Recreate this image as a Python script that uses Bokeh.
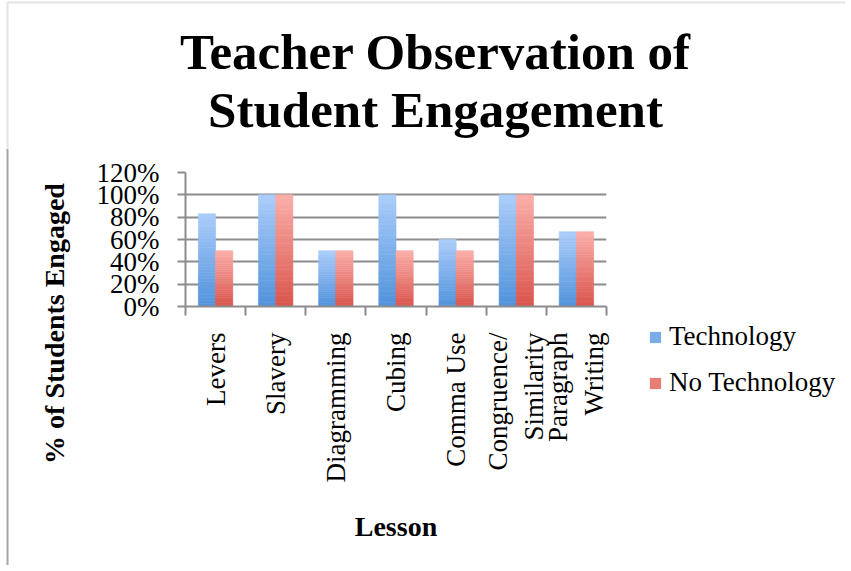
import math
from bokeh.plotting import figure
from bokeh.layouts import column, row
from bokeh.models import (Range1d, FixedTicker, NumeralTickFormatter, Label,
                          Legend, LegendItem, ColumnDataSource, Span, BoxAnnotation)
from bokeh.embed import file_html
from bokeh.resources import INLINE

# ---------------- data ----------------
lessons = ["Levers", "Slavery", "Diagramming", "Cubing", "Comma Use",
           "Congruence/\nSimilarity", "Paragraph\nWriting"]
technology = [0.83, 1.00, 0.50, 1.00, 0.60, 1.00, 0.67]
no_technology = [0.50, 1.00, 0.50, 0.50, 0.50, 1.00, 0.67]
series_names = ["Technology", "No Technology"]
y_ticks = [0, 0.2, 0.4, 0.6, 0.8, 1.0, 1.2]
title_lines = ["Teacher Observation of", "Student Engagement"]
y_title = "% of Students Engaged"
x_title = "Lesson"

# ---------------- style ----------------
BLUE_TOP, BLUE_BOTTOM = (172, 205, 251), (80, 146, 219)
RED_TOP, RED_BOTTOM = (251, 174, 170), (217, 85, 76)
GRAY = "#8c8c8c"
BORDER = "#a6a6a6"
FONT = "Liberation Serif"

W, H = 845, 565
TOP_H = 148              # height of the title strip
ROW_H = H - TOP_H
LEFT_W = 72              # strip holding the y-axis title
MAIN_W = 551             # main chart figure
RIGHT_W = W - LEFT_W - MAIN_W   # legend strip

BW = 1 / 3.5          # bar width (gap width 150%)
NSEG = 30             # segments used to imitate the vertical gradient


def hexcol(rgb):
    return "#%02x%02x%02x" % tuple(int(round(c)) for c in rgb)


def mix(top_rgb, bottom_rgb, t):
    return [b * (1 - t) + a * t for a, b in zip(top_rgb, bottom_rgb)]


def gradient_source(values, shift, top_rgb, bottom_rgb):
    xs, bottoms, tops, colors = [], [], [], []
    for i, v in enumerate(values):
        for k in range(NSEG):
            t = (k + 0.5) / NSEG
            xs.append(i + 0.5 + shift)
            bottoms.append(v * k / NSEG)
            tops.append(v * (k + 1) / NSEG)
            colors.append(hexcol(mix(top_rgb, bottom_rgb, t)))
    return ColumnDataSource(dict(x=xs, bottom=bottoms, top=tops, color=colors))


def no_align(f):
    try:
        f.frame_align = False
    except Exception:
        pass
    return f


def blank(width, height):
    f = figure(width=width, height=height, x_range=Range1d(0, width),
               y_range=Range1d(0, height), output_backend="svg",
               toolbar_location=None, tools="", x_axis_location=None,
               y_axis_location=None, min_border=0)
    f.grid.visible = False
    f.outline_line_color = None
    return no_align(f)


# ---------------- title strip ----------------
top = blank(W, TOP_H)
top.add_layout(BoxAnnotation(left=7, right=W + 50, top=TOP_H - 2, bottom=-50,
                             fill_alpha=0, line_color=BORDER, line_width=2))
top.add_layout(Label(x=435, y=TOP_H - 51, x_units="screen", y_units="screen",
                     text=title_lines[0], text_align="center",
                     text_baseline="middle", text_font=FONT,
                     text_font_style="bold", text_font_size="51px",
                     text_color="black"))
top.add_layout(Label(x=435, y=TOP_H - 109, x_units="screen", y_units="screen",
                     text=title_lines[1], text_align="center",
                     text_baseline="middle", text_font=FONT,
                     text_font_style="bold", text_font_size="51px",
                     text_color="black"))

# ---------------- y-title strip ----------------
left = blank(LEFT_W, ROW_H)
left.add_layout(Span(location=7, dimension="height", line_color=BORDER, line_width=2))
left.add_layout(Label(x=54, y=H - 323, x_units="screen", y_units="screen",
                      text=y_title, angle=math.pi / 2, text_align="center",
                      text_baseline="middle", text_font=FONT,
                      text_font_style="bold", text_font_size="28px",
                      text_color="black"))

# ---------------- main chart ----------------
p = figure(width=MAIN_W, height=ROW_H,
           x_range=Range1d(0, len(lessons)), y_range=Range1d(0, 1.2),
           output_backend="svg", toolbar_location=None, tools="",
           min_border_left=113, min_border_right=17,
           min_border_top=24, min_border_bottom=259)
no_align(p)
p.outline_line_color = None

src_t = gradient_source(technology, -BW / 2, BLUE_TOP, BLUE_BOTTOM)
src_n = gradient_source(no_technology, BW / 2, RED_TOP, RED_BOTTOM)
p.vbar(x="x", bottom="bottom", top="top", width=BW, source=src_t,
       fill_color="color", line_color="color", line_width=0.6)
p.vbar(x="x", bottom="bottom", top="top", width=BW, source=src_n,
       fill_color="color", line_color="color", line_width=0.6)

p.yaxis.ticker = FixedTicker(ticks=y_ticks)
p.yaxis.formatter = NumeralTickFormatter(format="0%")
p.yaxis.major_tick_out = 8
p.yaxis.major_tick_in = 0
p.yaxis.minor_tick_line_color = None
p.yaxis.major_label_standoff = 18
p.yaxis.axis_line_color = GRAY
p.yaxis.axis_line_width = 2
p.yaxis.major_tick_line_color = GRAY
p.yaxis.major_tick_line_width = 2
p.yaxis.major_label_text_font = FONT
p.yaxis.major_label_text_font_size = "27px"
p.yaxis.major_label_text_color = "black"

centers = [i + 0.5 for i in range(len(lessons))]
p.xaxis.ticker = FixedTicker(ticks=centers,
                             minor_ticks=list(range(len(lessons) + 1)))
p.xaxis.major_label_overrides = {c: lab for c, lab in zip(centers, lessons)}
p.xaxis.major_tick_line_color = None
p.xaxis.major_tick_out = 0
p.xaxis.major_tick_in = 0
p.xaxis.minor_tick_out = 9
p.xaxis.minor_tick_in = 0
p.xaxis.minor_tick_line_color = GRAY
p.xaxis.minor_tick_line_width = 2
p.xaxis.axis_line_color = GRAY
p.xaxis.axis_line_width = 2
p.xaxis.major_label_orientation = math.pi / 2
p.xaxis.major_label_standoff = 17
p.xaxis.major_label_text_font = FONT
p.xaxis.major_label_text_font_size = "27px"
p.xaxis.major_label_text_color = "black"
p.xaxis.axis_label = x_title
p.xaxis.axis_label_standoff = 26
p.xaxis.axis_label_text_font = FONT
p.xaxis.axis_label_text_font_style = "bold"
p.xaxis.axis_label_text_font_size = "28px"
p.xaxis.axis_label_text_color = "black"

p.xgrid.visible = False
p.ygrid.ticker = FixedTicker(ticks=y_ticks)
p.ygrid.grid_line_color = GRAY
p.ygrid.grid_line_width = 2

# ---------------- legend strip ----------------
right = blank(RIGHT_W, ROW_H)
# one off-canvas, zero-height row so that the legend swatches get drawn
swatch_src = ColumnDataSource(dict(x=[-1000], top=[0]))
lg_t = right.vbar(x="x", top="top", width=1, source=swatch_src,
                  fill_color=hexcol(mix(BLUE_TOP, BLUE_BOTTOM, 0.45)),
                  line_color=None)
lg_n = right.vbar(x="x", top="top", width=1, source=swatch_src,
                  fill_color=hexcol(mix(RED_TOP, RED_BOTTOM, 0.45)),
                  line_color=None)
legend = Legend(items=[LegendItem(label=series_names[0], renderers=[lg_t]),
                       LegendItem(label=series_names[1], renderers=[lg_n])],
                location=(25, H - 398), orientation="vertical",
                glyph_width=14, glyph_height=14, label_standoff=7,
                spacing=15, padding=0, margin=0,
                border_line_color=None, background_fill_alpha=0,
                label_text_font=FONT, label_text_font_size="27px",
                label_text_color="black")
right.add_layout(legend)

layout = column(top, row(left, p, right, spacing=0), spacing=0)
open("out.html", "w").write(file_html(layout, INLINE))
